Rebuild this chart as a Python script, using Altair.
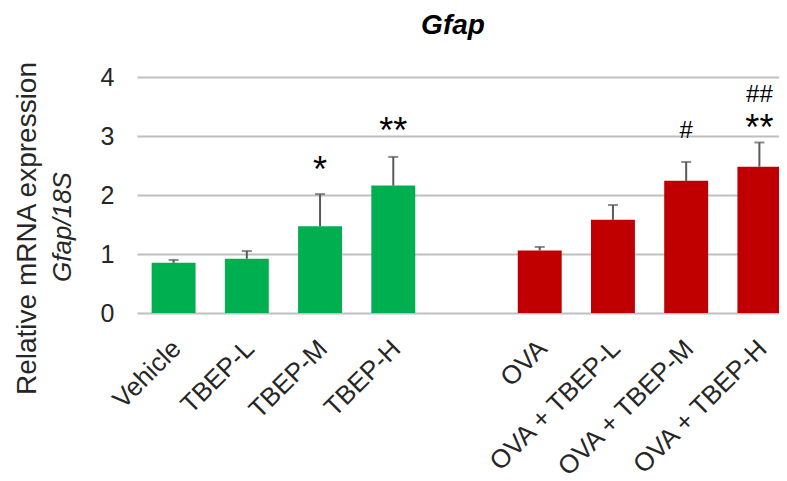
import altair as alt
import pandas as pd

groups = ["Vehicle", "TBEP-L", "TBEP-M", "TBEP-H",
          "OVA", "OVA + TBEP-L", "OVA + TBEP-M", "OVA + TBEP-H"]
means = [0.85, 0.92, 1.47, 2.16, 1.06, 1.58, 2.24, 2.48]
errs = [0.05, 0.13, 0.545, 0.485, 0.06, 0.25, 0.32, 0.41]
cohort = ["control"] * 4 + ["OVA"] * 4
slot_order = groups[:4] + [" "] + groups[4:]

star_groups = ["TBEP-M", "TBEP-H", "OVA + TBEP-H"]
star_text = ["*", "**", "**"]
star_y = [2.55, 3.20, 3.26]
hash_groups = ["OVA + TBEP-M", "OVA + TBEP-H"]
hash_text = ["#", "##"]
hash_y = [3.08, 3.70]

FONT = "Liberation Sans"
TXT = "#262626"

df = pd.DataFrame({
    "group": groups,
    "mean": means,
    "upper": [m + e for m, e in zip(means, errs)],
    "cohort": cohort,
})
stars = pd.DataFrame({"group": star_groups, "t": star_text, "y": star_y})
hashes = pd.DataFrame({"group": hash_groups, "t": hash_text, "y": hash_y})
ylab2 = pd.DataFrame({"t": ["Gfap/18S"]})
ttl = pd.DataFrame({"t": ["Gfap"]})

x_enc = alt.X(
    "group:N",
    sort=slot_order,
    scale=alt.Scale(domain=slot_order, paddingInner=0.4, paddingOuter=0.2,
                    range=[0, 659]),
    axis=alt.Axis(
        title=None, labelAngle=-45, labelAlign="right", labelBaseline="top",
        labelPadding=22, labelOffset=-6, labelFontSize=26, labelColor=TXT,
        labelFont=FONT, ticks=False, tickSize=0, domain=False, grid=False,
        labelOverlap=False, labelLimit=400,
    ),
)

y_axis = alt.Axis(
    values=[0, 1, 2, 3, 4], format="d", title="Relative mRNA expression",
    titleX=-110, titleY=151, titleAngle=270, titleBaseline="middle",
    titleAlign="center", titleFontSize=28, titleFontWeight="normal",
    titleColor=TXT, titleFont=FONT,
    labelFontSize=25, labelPadding=23, labelColor=TXT, labelFont=FONT,
    ticks=False, tickSize=0, domain=False, grid=True,
    gridColor="#BFBFBF", gridWidth=2,
)

base = alt.Chart(df)

bars = base.mark_bar().encode(
    x=x_enc,
    y=alt.Y("mean:Q", scale=alt.Scale(domain=[0, 4]), axis=y_axis),
    color=alt.Color("cohort:N",
                    scale=alt.Scale(domain=["control", "OVA"],
                                    range=["#00B050", "#C00000"]),
                    legend=None),
)

err_rule = base.mark_rule(color="#595959", strokeWidth=2).encode(
    x=x_enc, y="mean:Q", y2="upper:Q")
err_cap = base.mark_tick(color="#595959", thickness=2, size=10).encode(
    x=x_enc, y="upper:Q")

star_txt = alt.Chart(stars).mark_text(
    fontSize=36, font=FONT, color="black", baseline="middle", dy=8
).encode(x=x_enc, y="y:Q", text="t:N")

hash_txt = alt.Chart(hashes).mark_text(
    fontSize=24, font=FONT, color="black", baseline="middle"
).encode(x=x_enc, y="y:Q", text="t:N")

ylab = alt.Chart(ylab2).mark_text(
    angle=270, fontStyle="italic", fontSize=26, font=FONT, color=TXT,
    baseline="middle", align="center"
).encode(text="t:N", x=alt.value(-74), y=alt.value(150))

title_txt = alt.Chart(ttl).mark_text(
    fontStyle="italic", fontWeight="bold", fontSize=28, font=FONT,
    color="black", baseline="alphabetic", align="center"
).encode(text="t:N", x=alt.value(316), y=alt.value(-43))

chart = alt.layer(bars, err_rule, err_cap, star_txt, hash_txt, ylab,
                  title_txt).properties(
    width=642, height=236,
    autosize=alt.AutoSizeParams(type="none"),
    padding={"left": 129, "top": 69, "right": 0, "bottom": 168},
).configure_view(stroke=None)

chart.save("out.html", embed_options={"renderer": "svg", "actions": False})
